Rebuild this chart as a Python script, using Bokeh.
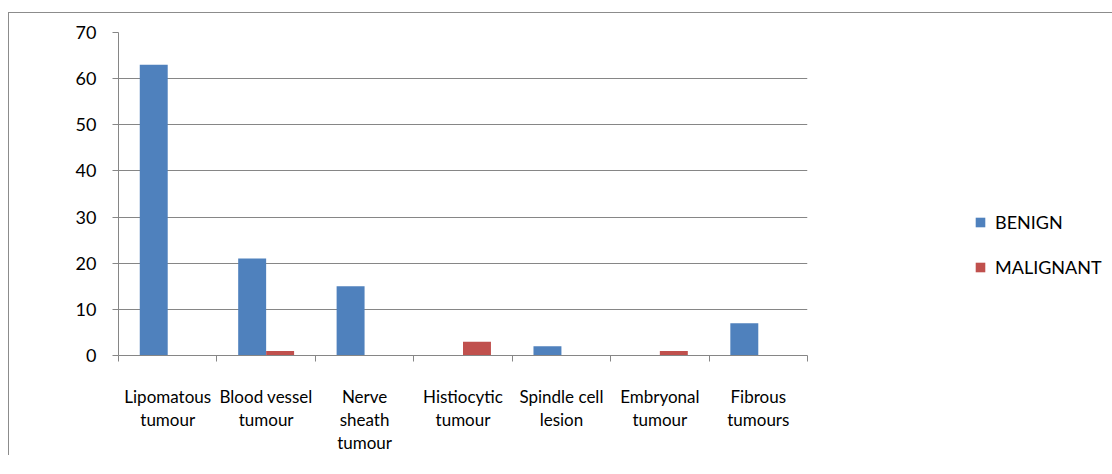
from bokeh.plotting import figure
from bokeh.models import (Range1d, LinearAxis, FixedTicker, Legend, LegendItem)
from bokeh.transform import dodge
from bokeh.embed import file_html
from bokeh.resources import INLINE

categories = ["Lipomatous\ntumour", "Blood vessel\ntumour", "Nerve\nsheath\ntumour",
              "Histiocytic\ntumour", "Spindle cell\nlesion", "Embryonal\ntumour", "Fibrous\ntumours"]
benign = [63, 21, 15, 0, 2, 0, 7]
malignant = [0, 1, 0, 3, 0, 1, 0]
series_names = ["BENIGN", "MALIGNANT"]
y_ticks = [0, 10, 20, 30, 40, 50, 60, 70]

BLUE = "#4F81BD"
RED = "#C0504D"
GRID = "#868686"
FONT = "Lato"

n = len(categories)
centers = [i + 0.5 for i in range(n)]
edges = list(range(n + 1))
data = dict(x=centers, benign=benign, malignant=malignant)

p = figure(x_range=Range1d(0, n), y_range=Range1d(0, 70),
           frame_width=689, frame_height=323, output_backend="svg", toolbar_location=None,
           x_axis_location=None, y_axis_location=None,
           min_border_left=118, min_border_top=32, min_border_right=0, min_border_bottom=0)
p.border_fill_color = None
p.background_fill_color = None
p.outline_line_color = None
p.styles = {"background": "linear-gradient(#8c8c8c,#8c8c8c) 8px 12px / 100% 1px no-repeat, "
                          "linear-gradient(#8c8c8c,#8c8c8c) 8px 12px / 1px 100% no-repeat"}

r1 = p.vbar(x=dodge("x", -0.142), top="benign", width=0.284,
            source=data, fill_color=BLUE, line_color=None)
r2 = p.vbar(x=dodge("x", 0.142), top="malignant", width=0.284,
            source=data, fill_color=RED, line_color=None)

yaxis = LinearAxis(ticker=FixedTicker(ticks=y_ticks), axis_line_color=GRID,
                   major_tick_line_color=GRID, major_tick_out=6, major_tick_in=0,
                   minor_tick_line_color=None, major_label_standoff=16,
                   major_label_text_font=FONT, major_label_text_font_size="18px",
                   major_label_text_color="#000000")
p.add_layout(yaxis, "left")

edge_axis = LinearAxis(ticker=FixedTicker(ticks=edges),
                       major_label_overrides={e: "" for e in edges},
                       axis_line_color=GRID, major_tick_line_color=GRID, major_tick_out=6,
                       major_tick_in=0, minor_tick_line_color=None,
                       major_label_text_font_size="1px", major_label_standoff=0)
p.add_layout(edge_axis, "below")

cat_axis = LinearAxis(ticker=FixedTicker(ticks=centers),
                      major_label_overrides={c: lab for c, lab in zip(centers, categories)},
                      axis_line_color=None, major_tick_line_color=None, minor_tick_line_color=None,
                      major_tick_out=0, major_tick_in=0,
                      major_label_standoff=24, major_label_text_font=FONT,
                      major_label_text_font_size="17px", major_label_text_color="#000000",
                      major_label_text_line_height=1.1)
p.add_layout(cat_axis, "below")

p.ygrid.grid_line_color = GRID
p.ygrid.ticker = FixedTicker(ticks=y_ticks)
p.xgrid.grid_line_color = None

legend = Legend(items=[LegendItem(label=series_names[0], renderers=[r1]),
                       LegendItem(label=series_names[1], renderers=[r2])],
                location=(167, 77), glyph_width=12, glyph_height=12, label_standoff=9,
                spacing=23, padding=0, margin=0, border_line_color=None,
                background_fill_alpha=0, label_height=20,
                label_text_font=FONT, label_text_font_size="18px", label_text_color="#000000")
p.add_layout(legend, "right")

open("out.html", "w").write(file_html(p, INLINE))
